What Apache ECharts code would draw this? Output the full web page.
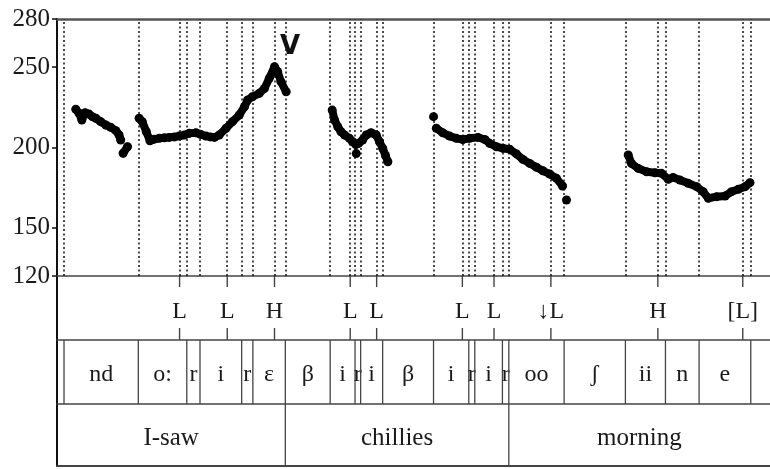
<!DOCTYPE html>
<html><head><meta charset="utf-8">
<script src="https://cdn.jsdelivr.net/npm/echarts@6/dist/echarts.min.js"></script>
<style>html,body{margin:0;padding:0;background:#fff}#c{width:770px;height:469px}</style>
</head><body><div id="c"></div>
<script>
// ---- data (time in ms, F0 in Hz) ----
const yTicks = [120, 150, 200, 250, 280];
const timeMax = 1780;

const f0_Isaw_a = [[47,223.8],[55,221.3],[62,217.1],[70,221.7],[80,220.8],[88,219.2],[97,218.2],[109,216.1],[122,214],[134,212.6],[147,210.5],[155,207.8],[159,204.7]];
const f0_Isaw_b = [[165,196.4],[176,200.5]];
const f0_Isaw_c = [[205,218.2],[213,216],[223,209.8],[232,204.2],[243,205.2],[255,205.7],[268,206],[280,206.3],[293,206.6],[305,207.1],[318,207.8],[330,208.8],[347,209.2],[358,208.2],[372,207.1],[383,206.6],[393,206.3],[405,207.8],[422,212],[438,216.1],[455,220.2],[468,225.4],[476,229.6],[488,231.6],[505,233.7],[518,236.8],[530,243.1],[543,250.3],[551,247.2],[559,241],[572,234.7]];
const f0_chill_a = [[687,223.3],[693,217.1],[701,212.9],[709,209.8],[718,207.8],[730,205.7],[738,203.6],[746,201.8],[753,202.6],[763,204.7],[772,207.8],[784,209.2],[797,207.8],[805,203.6],[813,199.5],[820,195],[826,191.1]];
const f0_chill_b = [[747,196.2]];
const f0_chill_c = [[940,219.2]];
const f0_chill_d = [[947,212],[963,209.2],[980,207.1],[997,205.7],[1013,205],[1030,205.7],[1051,206.3],[1068,205],[1080,202.6],[1097,200.5],[1113,199.5],[1130,198.9],[1147,196],[1163,192.6],[1180,190.1],[1197,187.7],[1213,185.5],[1230,183.5],[1247,180.8],[1262,176]];
const f0_morn_a = [[1272,167.3]];
const f0_morn_b = [[1426,195.3],[1434,190.1],[1451,187],[1472,184.9],[1493,184.3],[1509,183.9],[1526,180.2],[1538,181.4],[1555,179.8],[1576,177.7],[1597,175.6],[1613,172.5],[1626,168.4],[1647,169.4],[1668,169.8],[1684,172.5],[1701,174],[1718,175.6],[1730,178.1]];

const segLabels = ['', 'nd','o:','r','i','r','ε','β','i','r','i','β','i','r','i','r','oo','ʃ','ii','n','e',''];
const segBounds = [0, 17.5, 203, 324, 357, 461, 489, 570, 682, 744, 758, 813, 940, 1028, 1043, 1112, 1128, 1266, 1419, 1519, 1603, 1732, 1780];
const toneLabels = ['L','L','H','L','L','L','L','↓L','H','[L]'];
const toneTimes = [306, 425, 543, 732, 798, 1012, 1091, 1233, 1500, 1712];
const words = ['I-saw','chillies','morning'];
const wordBounds = [0, 570, 1128, 1780];
const peakMark = 'V';

// ---- chart ----
const chart = echarts.init(document.getElementById('c'), null, {renderer: 'canvas'});
const SERIF = '"Liberation Serif", "Times New Roman", serif';
const gridDefs = [
  {left: 57, right: 0, top: 19, height: 257},
  {left: 57, right: 0, top: 276, height: 64},
  {left: 57, right: 0, top: 340, height: 64},
  {left: 57, right: 0, top: 404, height: 62}
];
const tierLine = {color: '#444', width: 1.6};

const xAxes = gridDefs.map((g, i) => ({
  type: 'value', gridIndex: i, min: 0, max: timeMax, position: 'bottom',
  axisLine: {show: true, lineStyle: i === 3 ? {color: '#444', width: 2.2} : tierLine},
  axisTick: {show: false}, axisLabel: {show: false}, splitLine: {show: false}
}));
xAxes.push({
  type: 'value', gridIndex: 0, min: 0, max: timeMax, position: 'top',
  axisLine: {show: true, lineStyle: {color: '#555', width: 2.5}},
  axisTick: {show: false}, axisLabel: {show: false}, splitLine: {show: false}
});

const yAxes = [{
  type: 'value', gridIndex: 0, min: 120, max: 280,
  axisLine: {show: true, lineStyle: {color: '#111', width: 2}},
  axisTick: {show: true, length: 5, customValues: yTicks, lineStyle: {color: '#111', width: 1.5}},
  axisLabel: {customValues: yTicks, margin: 7, color: '#1a1a1a', fontFamily: SERIF, fontSize: 25},
  splitLine: {show: false}
}];
for (let i = 1; i < 4; i++) {
  yAxes.push({
    type: 'value', gridIndex: i, min: 0, max: 1,
    axisLine: {show: true, lineStyle: {color: '#111', width: 2}},
    axisTick: {show: false}, axisLabel: {show: false}, splitLine: {show: false}
  });
}

const runs = [f0_Isaw_a, f0_Isaw_b, f0_Isaw_c, f0_chill_a, f0_chill_b, f0_chill_c, f0_chill_d, f0_morn_a, f0_morn_b];
const series = runs.map(r => ({
  type: 'line', xAxisIndex: 0, yAxisIndex: 0, data: r,
  showSymbol: true, symbol: 'circle', symbolSize: 9,
  itemStyle: {color: '#000'}, lineStyle: {color: '#000', width: 8, cap: 'round', join: 'round'},
  silent: true, animation: false, z: 5
}));

// dotted boundary lines in the pitch panel
const dotted = segBounds.slice(1, -1).concat(toneTimes);
series.push({
  type: 'line', xAxisIndex: 0, yAxisIndex: 0, data: [], silent: true, animation: false,
  markLine: {
    silent: true, symbol: ['none', 'none'], animation: false,
    label: {show: false},
    lineStyle: {type: [2, 2.5], color: '#111', width: 1.5},
    data: dotted.map(t => ({xAxis: t}))
  }
});

// tone tier
series.push({
  type: 'custom', xAxisIndex: 1, yAxisIndex: 1, clip: false, animation: false, silent: true,
  data: toneTimes.map(t => [t, 0.5]),
  encode: {x: 0, y: 1},
  renderItem: (params, api) => {
    const cs = params.coordSys;
    const x = api.coord([api.value(0), 0])[0];
    return {type: 'group', children: [
      {type: 'line', shape: {x1: x, y1: cs.y, x2: x, y2: cs.y + 11}, style: {stroke: '#444', lineWidth: 1.4}},
      {type: 'line', shape: {x1: x, y1: cs.y + cs.height - 12, x2: x, y2: cs.y + cs.height}, style: {stroke: '#444', lineWidth: 1.4}},
      {type: 'text', style: {text: toneLabels[params.dataIndex], x: x, y: cs.y + 36, align: 'center', verticalAlign: 'middle', font: '24px ' + SERIF, fill: '#1a1a1a'}}
    ]};
  }
});

function intervalTier(bounds, labels, xi, fontSize, dy) {
  const data = [];
  for (let i = 0; i < labels.length; i++) data.push([bounds[i], bounds[i + 1]]);
  return {
    type: 'custom', xAxisIndex: xi, yAxisIndex: xi, clip: false, animation: false, silent: true,
    data: data, encode: {x: [0, 1]},
    renderItem: (params, api) => {
      const cs = params.coordSys;
      const s = api.value(0), e = api.value(1);
      const x0 = api.coord([s, 0])[0], x1 = api.coord([e, 0])[0];
      const ch = [];
      if (s > 0) ch.push({type: 'line', shape: {x1: x0, y1: cs.y, x2: x0, y2: cs.y + cs.height}, style: {stroke: '#444', lineWidth: 1.3}});
      ch.push({type: 'text', style: {text: labels[params.dataIndex], x: (x0 + Math.min(x1, cs.x + cs.width)) / 2, y: cs.y + cs.height / 2 + dy, align: 'center', verticalAlign: 'middle', font: fontSize + 'px ' + SERIF, fill: '#1a1a1a'}});
      return {type: 'group', children: ch};
    }
  };
}
series.push(intervalTier(segBounds, segLabels, 2, 24, 3));
series.push(intervalTier(wordBounds, words, 3, 25, 3));

chart.setOption({
  animation: false,
  backgroundColor: '#fff',
  grid: gridDefs,
  xAxis: xAxes,
  yAxis: yAxes,
  series: series,
  graphic: [{
    type: 'text', left: 280, top: 34, silent: true,
    style: {text: peakMark, font: 'bold 26px "DejaVu Sans", sans-serif', fill: '#111'}
  }]
});
</script>
</body></html>
